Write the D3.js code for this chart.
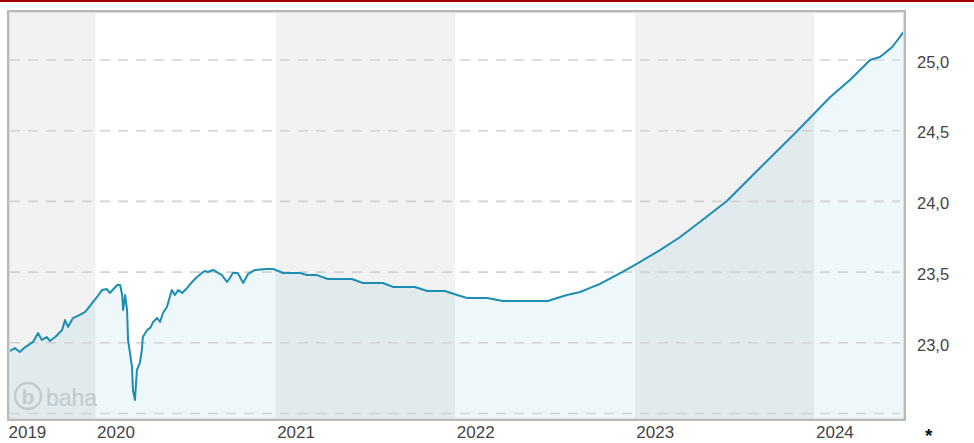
<!DOCTYPE html>
<html>
<head>
<meta charset="utf-8">
<script src="https://cdn.jsdelivr.net/npm/d3@7"></script>
<style>
  html, body { margin: 0; padding: 0; background: #fff; }
  svg { display: block; }
  text { font-family: "Liberation Sans", Arial, sans-serif; }
</style>
</head>
<body>
<svg id="chart" width="974" height="443"></svg>
<script>
// Price history (5 years, NAV in EUR)
const dates = [
  "2019-07-07","2019-07-21","2019-07-31","2019-08-11","2019-08-27","2019-09-06","2019-09-14","2019-09-24",
  "2019-09-30","2019-10-11","2019-10-25","2019-10-31","2019-11-06","2019-11-16","2019-11-30","2019-12-11",
  "2019-12-25","2020-01-04","2020-01-14","2020-01-24","2020-01-30","2020-02-14","2020-02-20","2020-02-24",
  "2020-02-26","2020-03-01","2020-03-05","2020-03-07","2020-03-15","2020-03-17","2020-03-21","2020-03-25",
  "2020-03-31","2020-04-04","2020-04-06","2020-04-15","2020-04-21","2020-04-27","2020-05-05","2020-05-11",
  "2020-05-17","2020-05-25","2020-06-04","2020-06-10","2020-06-17","2020-06-25","2020-07-05","2020-07-15",
  "2020-07-25","2020-08-04","2020-08-10","2020-08-16","2020-08-27","2020-09-06","2020-09-14","2020-09-24",
  "2020-09-30","2020-10-06","2020-10-16","2020-10-27","2020-11-06","2020-11-20","2020-12-14","2020-12-27",
  "2021-01-16","2021-02-19","2021-03-06","2021-03-26","2021-04-17","2021-06-05","2021-06-27","2021-08-07",
  "2021-08-27","2021-10-11","2021-11-05","2021-12-11","2022-01-05","2022-01-25","2022-03-07","2022-04-08",
  "2022-07-08","2022-07-27","2022-08-16","2022-09-12","2022-10-02","2022-10-22","2022-12-06","2023-01-11",
  "2023-02-21","2023-04-03","2023-05-13","2023-07-07","2023-09-12","2023-11-27","2024-02-02","2024-03-13",
  "2024-04-23","2024-05-13","2024-06-07","2024-07-03"
];
const values = [
  22.935,22.963,22.935,22.970,23.006,23.069,23.020,23.041,
  23.013,23.041,23.091,23.161,23.112,23.175,23.197,23.218,
  23.281,23.324,23.373,23.380,23.352,23.409,23.409,23.338,
  23.232,23.338,23.232,23.020,22.829,22.666,22.595,22.808,
  22.857,22.949,23.041,23.091,23.105,23.147,23.175,23.147,
  23.211,23.253,23.373,23.338,23.373,23.352,23.388,23.430,
  23.465,23.494,23.508,23.501,23.515,23.494,23.479,23.430,
  23.458,23.494,23.494,23.423,23.487,23.515,23.522,23.522,
  23.494,23.494,23.479,23.479,23.451,23.451,23.423,23.423,
  23.395,23.395,23.366,23.366,23.338,23.317,23.317,23.296,
  23.296,23.317,23.338,23.359,23.388,23.416,23.500,23.571,
  23.656,23.748,23.854,24.003,24.236,24.498,24.738,24.859,
  25.000,25.021,25.092,25.212
];
const yTicks = [22.5, 23.0, 23.5, 24.0, 24.5, 25.0];
const yLabelTicks = [23.0, 23.5, 24.0, 24.5, 25.0];
const xStart = "2019-07-05";
const xEnd = "2024-07-05";

const parse = d3.timeParse("%Y-%m-%d");
const data = dates.map((d, i) => ({ date: parse(d), value: values[i] }));

const svg = d3.select("#chart");
const plot = { left: 7, top: 10, right: 906, bottom: 421 };

const x = d3.scaleTime()
  .domain([parse(xStart), parse(xEnd)])
  .range([plot.left, plot.right]);
const y = d3.scaleLinear()
  .domain([22.5, 25.0])
  .range([413.5, 60]);

// dark red rule across the top
svg.append("rect").attr("x", 0).attr("y", 0).attr("width", 974).attr("height", 2).attr("fill", "#a30000");

svg.append("defs").append("clipPath").attr("id", "plotClip")
  .append("rect")
  .attr("x", plot.left).attr("y", plot.top)
  .attr("width", plot.right - plot.left).attr("height", plot.bottom - plot.top);

const g = svg.append("g").attr("clip-path", "url(#plotClip)");

// alternating year bands
const yearStarts = [parse(xStart)].concat(d3.timeYear.range(d3.timeYear.ceil(parse(xStart)), parse(xEnd)));
yearStarts.forEach((d, i) => {
  const next = i + 1 < yearStarts.length ? yearStarts[i + 1] : parse(xEnd);
  g.append("rect")
    .attr("x", x(d)).attr("y", plot.top)
    .attr("width", x(next) - x(d)).attr("height", plot.bottom - plot.top)
    .attr("fill", i % 2 === 0 ? "#f2f2f2" : "#ffffff");
});

// logo watermark
const logo = g.append("g").attr("fill", "none");
logo.append("circle").attr("cx", 28).attr("cy", 396).attr("r", 13)
  .attr("stroke", "#cdd0d1").attr("stroke-width", 2.5);
logo.append("text").attr("x", 28).attr("y", 404).attr("text-anchor", "middle")
  .attr("font-size", 21).attr("font-weight", "bold").attr("fill", "#cdd0d1").text("b");
logo.append("text").attr("x", 46).attr("y", 406)
  .attr("font-size", 23).attr("fill", "#cdd0d1").text("baha");

// area under the price line
g.append("path")
  .datum(data)
  .attr("fill", "rgba(0,128,175,0.065)")
  .attr("d", d3.area().x(d => x(d.date)).y0(plot.bottom).y1(d => y(d.value)));

// dashed grid
g.selectAll("line.grid").data(yTicks).join("line")
  .attr("class", "grid")
  .attr("x1", plot.left + 3).attr("x2", plot.right - 6)
  .attr("y1", d => y(d)).attr("y2", d => y(d))
  .attr("stroke", "#d2d2d2").attr("stroke-width", 1.6)
  .attr("stroke-dasharray", "10,8");

// price line
g.append("path")
  .datum(data)
  .attr("fill", "none")
  .attr("stroke", "#1d8db3")
  .attr("stroke-width", 2)
  .attr("stroke-linejoin", "round")
  .attr("d", d3.line().x(d => x(d.date)).y(d => y(d.value)));

// frame
svg.append("rect")
  .attr("x", plot.left + 1).attr("y", plot.top + 1)
  .attr("width", plot.right - plot.left - 2).attr("height", plot.bottom - plot.top - 2)
  .attr("fill", "none").attr("stroke", "#b9b9b9").attr("stroke-width", 2);
svg.append("rect")
  .attr("x", plot.left + 2.5).attr("y", plot.top + 2.5)
  .attr("width", plot.right - plot.left - 5).attr("height", plot.bottom - plot.top - 5)
  .attr("fill", "none").attr("stroke", "#dedede").attr("stroke-width", 1);

// value axis on the right
const yAxis = d3.axisRight(y)
  .tickValues(yLabelTicks)
  .tickSize(0)
  .tickPadding(0)
  .tickFormat(d => d3.format(".1f")(d).replace(".", ","));
const ya = svg.append("g").attr("transform", "translate(917,2)").call(yAxis);
ya.select(".domain").remove();
ya.selectAll("text").attr("font-size", 16.5).attr("fill", "#444").attr("font-family", "Liberation Sans, Arial, sans-serif");

// year axis along the bottom, labels start at each year boundary
const xAxis = d3.axisBottom(x)
  .tickValues(yearStarts)
  .tickSize(0)
  .tickPadding(0)
  .tickFormat(d3.timeFormat("%Y"));
const xa = svg.append("g").attr("transform", "translate(0,426)").call(xAxis);
xa.select(".domain").remove();
xa.selectAll("text")
  .attr("text-anchor", "start")
  .attr("dx", 1)
  .attr("dy", "0.72em")
  .attr("font-size", 17).attr("fill", "#444")
  .attr("font-family", "Liberation Sans, Arial, sans-serif");

// footnote marker
svg.append("text").attr("x", 925).attr("y", 442)
  .attr("font-size", 19).attr("font-weight", "bold").attr("fill", "#111").text("*");
</script>
</body>
</html>
